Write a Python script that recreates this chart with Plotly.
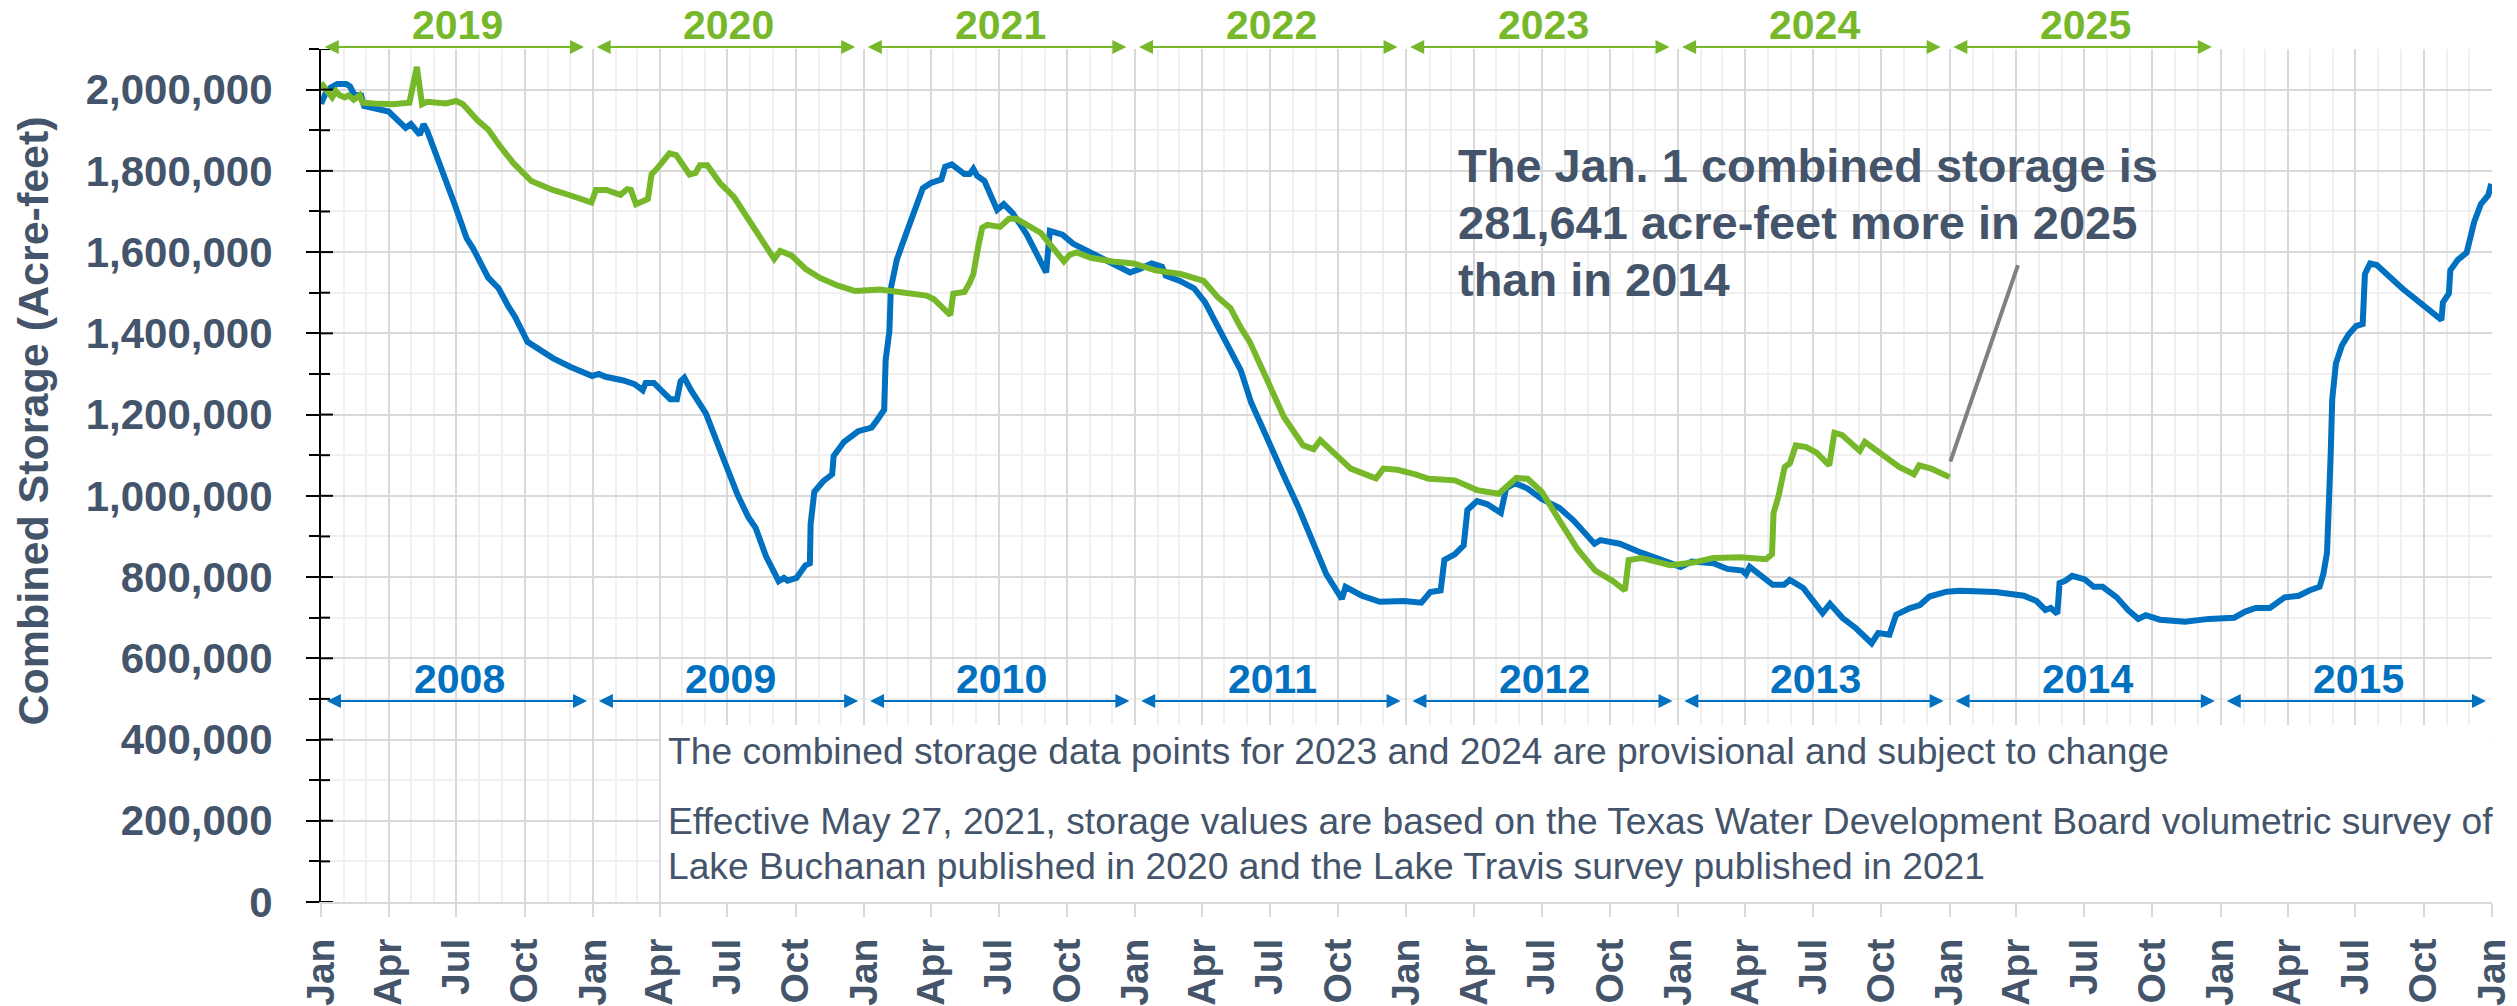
import pandas as pd
import plotly.graph_objects as go

# ---------------- data (acre-feet) ----------------
blue_dates = [
    "2008-01-01", "2008-01-07", "2008-01-14", "2008-01-23", "2008-02-04", "2008-02-09", "2008-02-14", "2008-02-24",
    "2008-02-28", "2008-03-16", "2008-04-01", "2008-04-24", "2008-05-01", "2008-05-13", "2008-05-18", "2008-05-23",
    "2008-06-11", "2008-06-28", "2008-07-15", "2008-07-24", "2008-08-13", "2008-08-27", "2008-09-09", "2008-09-18",
    "2008-10-05", "2008-10-15", "2008-11-08", "2008-12-02", "2008-12-31",
    "2009-01-09", "2009-01-18", "2009-02-11", "2009-02-26", "2009-03-09", "2009-03-13", "2009-03-24", "2009-04-15",
    "2009-04-24", "2009-04-29", "2009-05-04", "2009-05-13", "2009-06-02", "2009-06-16", "2009-06-30", "2009-07-15",
    "2009-07-29", "2009-08-08", "2009-08-22", "2009-09-08", "2009-09-15", "2009-09-20", "2009-10-02", "2009-10-14",
    "2009-10-20", "2009-10-21", "2009-10-26", "2009-11-07", "2009-11-19", "2009-11-21", "2009-12-05", "2009-12-24",
    "2010-01-11", "2010-01-18", "2010-01-28", "2010-01-30", "2010-02-04", "2010-02-06", "2010-02-14", "2010-02-26",
    "2010-03-09", "2010-03-21", "2010-04-01", "2010-04-15", "2010-04-20", "2010-04-29", "2010-05-16", "2010-05-23",
    "2010-05-28", "2010-06-02", "2010-06-12", "2010-06-29", "2010-07-08", "2010-07-20", "2010-08-08", "2010-09-03",
    "2010-09-08", "2010-09-25", "2010-10-09", "2010-11-02", "2010-12-01", "2010-12-25",
    "2011-01-08", "2011-01-23", "2011-02-06", "2011-02-11", "2011-03-02", "2011-03-21", "2011-04-05", "2011-04-24",
    "2011-05-08", "2011-05-23", "2011-06-06", "2011-06-21", "2011-07-05", "2011-07-19", "2011-08-08", "2011-08-27",
    "2011-09-15", "2011-10-06", "2011-10-11", "2011-11-02", "2011-11-26", "2011-12-29",
    "2012-01-21", "2012-02-02", "2012-02-16", "2012-02-21", "2012-03-06", "2012-03-18", "2012-03-23", "2012-04-05",
    "2012-04-19", "2012-05-07", "2012-05-14", "2012-05-26", "2012-06-12", "2012-07-01", "2012-07-25", "2012-08-13",
    "2012-09-10", "2012-09-18", "2012-10-14", "2012-11-12", "2012-12-20",
    "2013-01-04", "2013-01-19", "2013-02-17", "2013-03-08", "2013-03-28", "2013-04-02", "2013-04-07", "2013-05-08",
    "2013-05-23", "2013-05-31", "2013-06-18", "2013-07-14", "2013-07-24", "2013-08-10", "2013-08-28", "2013-09-18",
    "2013-09-27", "2013-10-12", "2013-10-21", "2013-11-08", "2013-11-22", "2013-12-05", "2013-12-28",
    "2014-01-15", "2014-03-04", "2014-04-11", "2014-04-28", "2014-05-10", "2014-05-17", "2014-05-26", "2014-05-29",
    "2014-06-06", "2014-06-15", "2014-07-02", "2014-07-14", "2014-07-26", "2014-08-14", "2014-08-29", "2014-09-12",
    "2014-09-22", "2014-10-11", "2014-11-14", "2014-12-16",
    "2015-01-19", "2015-02-03", "2015-02-17", "2015-03-08", "2015-03-28", "2015-04-16", "2015-04-30", "2015-05-14",
    "2015-05-19", "2015-05-24", "2015-05-29", "2015-05-31", "2015-06-05", "2015-06-13", "2015-06-22", "2015-07-02",
    "2015-07-11", "2015-07-14", "2015-07-21", "2015-07-30", "2015-09-02", "2015-10-01", "2015-10-25", "2015-10-27",
    "2015-11-04", "2015-11-06", "2015-11-16", "2015-11-28", "2015-12-08", "2015-12-17", "2015-12-27", "2015-12-31",
]
blue_values = [
    1965000, 1990000, 2005000, 2014000, 2014000, 2008000, 1990000, 1986000,
    1960000, 1953000, 1946000, 1906000, 1915000, 1889000, 1915000, 1898000,
    1810000, 1722000, 1634000, 1608000, 1537000, 1511000, 1467000, 1441000,
    1379000, 1366000, 1339000, 1317000, 1295000,
    1300000, 1293000, 1284000, 1275000, 1260000, 1278000, 1278000, 1238000,
    1238000, 1282000, 1291000, 1260000, 1203000, 1141000, 1071000, 1001000,
    948000, 921000, 851000, 790000, 798000, 791000, 798000, 829000,
    834000, 930000, 1010000, 1036000, 1053000, 1098000, 1133000, 1159000,
    1168000, 1185000, 1212000, 1335000, 1405000, 1511000, 1581000, 1643000,
    1696000, 1757000, 1770000, 1779000, 1810000, 1816000, 1792000, 1792000,
    1805000, 1788000, 1775000, 1704000, 1718000, 1696000, 1643000, 1550000,
    1652000, 1643000, 1621000, 1599000, 1572000, 1550000,
    1559000, 1572000, 1564000, 1542000, 1529000, 1511000, 1476000, 1414000,
    1361000, 1309000, 1229000, 1168000, 1106000, 1053000, 974000, 886000,
    807000, 746000, 776000, 754000, 739000, 741000,
    737000, 763000, 767000, 842000, 856000, 878000, 965000, 987000,
    979000, 958000, 1018000, 1031000, 1018000, 992000, 970000, 939000,
    882000, 891000, 882000, 860000, 834000,
    825000, 838000, 834000, 820000, 816000, 807000, 825000, 781000,
    781000, 793000, 773000, 711000, 734000, 699000, 674000, 637000,
    662000, 658000, 707000, 723000, 731000, 752000, 764000,
    766000, 763000, 754000, 741000, 719000, 724000, 710000, 785000,
    791000, 803000, 794000, 776000, 776000, 750000, 719000, 697000,
    706000, 695000, 690000, 697000,
    700000, 715000, 724000, 724000, 750000, 754000, 767000, 776000,
    807000, 860000, 1106000, 1238000, 1326000, 1370000, 1397000, 1418000,
    1423000, 1546000, 1572000, 1568000, 1511000, 1467000, 1433000, 1476000,
    1498000, 1555000, 1581000, 1599000, 1674000, 1718000, 1740000, 1768000,
]

green_dates = [
    "2019-01-01", "2019-01-07", "2019-01-12", "2019-01-16", "2019-01-21", "2019-01-26", "2019-02-02", "2019-02-07",
    "2019-02-14", "2019-02-22", "2019-02-26", "2019-03-12", "2019-04-06", "2019-04-29", "2019-05-03", "2019-05-09",
    "2019-05-13", "2019-05-16", "2019-05-23", "2019-06-17", "2019-07-01", "2019-07-10", "2019-07-30", "2019-08-13",
    "2019-08-28", "2019-09-16", "2019-10-10", "2019-11-08", "2019-12-01", "2019-12-30",
    "2020-01-05", "2020-01-19", "2020-02-07", "2020-02-16", "2020-02-21", "2020-02-28", "2020-03-16", "2020-03-21",
    "2020-03-28", "2020-04-04", "2020-04-14", "2020-04-23", "2020-05-11", "2020-05-19", "2020-05-25", "2020-06-04",
    "2020-06-21", "2020-07-10", "2020-08-03", "2020-08-22", "2020-09-02", "2020-09-10", "2020-09-25", "2020-10-14",
    "2020-11-02", "2020-11-26", "2020-12-20",
    "2021-01-22", "2021-02-26", "2021-03-26", "2021-04-05", "2021-04-27", "2021-05-01", "2021-05-16", "2021-05-23",
    "2021-05-28", "2021-06-04", "2021-06-09", "2021-06-16", "2021-07-03", "2021-07-15", "2021-07-25", "2021-08-27",
    "2021-09-27", "2021-10-05", "2021-10-14", "2021-11-02", "2021-12-01", "2021-12-30",
    "2022-01-28", "2022-03-03", "2022-04-03", "2022-04-22", "2022-05-09", "2022-05-23", "2022-06-04", "2022-06-26",
    "2022-07-20", "2022-08-15", "2022-08-29", "2022-09-07", "2022-09-25", "2022-10-18", "2022-11-12", "2022-11-21",
    "2022-12-01", "2022-12-20",
    "2023-01-13", "2023-01-31", "2023-03-06", "2023-04-05", "2023-05-04", "2023-05-28", "2023-06-12", "2023-07-01",
    "2023-07-25", "2023-08-18", "2023-09-11", "2023-10-05", "2023-10-21", "2023-10-26", "2023-11-12", "2023-12-21",
    "2024-01-19", "2024-02-17", "2024-03-26", "2024-04-29", "2024-05-07", "2024-05-09", "2024-05-16", "2024-05-24",
    "2024-05-31", "2024-06-08", "2024-06-22", "2024-07-06", "2024-07-23", "2024-07-30", "2024-08-09", "2024-09-02",
    "2024-09-09", "2024-10-01", "2024-10-25", "2024-11-14", "2024-11-21", "2024-12-07", "2025-01-01",
]
green_values = [
    2017000, 1999000, 1990000, 1981000, 1996000, 1986000, 1981000, 1986000,
    1975000, 1986000, 1968000, 1966000, 1964000, 1968000, 2012000, 2056000,
    2003000, 1964000, 1970000, 1966000, 1972000, 1964000, 1924000, 1902000,
    1863000, 1819000, 1775000, 1753000, 1740000, 1722000,
    1753000, 1753000, 1741000, 1755000, 1753000, 1718000, 1731000, 1792000,
    1805000, 1823000, 1843000, 1839000, 1791000, 1795000, 1814000, 1814000,
    1770000, 1735000, 1669000, 1617000, 1583000, 1603000, 1592000, 1559000,
    1537000, 1518000, 1504000,
    1508000, 1498000, 1493000, 1484000, 1445000, 1498000, 1502000, 1524000,
    1546000, 1617000, 1660000, 1667000, 1662000, 1682000, 1682000, 1647000,
    1577000, 1594000, 1599000, 1586000, 1577000, 1572000,
    1555000, 1546000, 1529000, 1489000, 1462000, 1414000, 1379000, 1291000,
    1194000, 1124000, 1115000, 1137000, 1106000, 1067000, 1049000, 1043000,
    1067000, 1064000,
    1053000, 1042000, 1038000, 1014000, 1005000, 1044000, 1042000, 1010000,
    939000, 869000, 816000, 790000, 767000, 842000, 847000, 829000,
    835000, 847000, 849000, 844000, 856000, 957000, 1001000, 1071000,
    1080000, 1124000, 1120000, 1106000, 1075000, 1155000, 1150000, 1111000,
    1133000, 1102000, 1071000, 1053000, 1075000, 1067000, 1046000,
]

blue_years = ["2008", "2009", "2010", "2011", "2012", "2013", "2014", "2015"]
green_years = ["2019", "2020", "2021", "2022", "2023", "2024", "2025"]
YEAR_OFFSET = 11  # green series (2019-) overlaid on the 2008- axis

note_lines = [
    "The combined storage data points for 2023 and 2024 are provisional and subject to change",
    "Effective May 27, 2021, storage values are based on the Texas Water Development Board volumetric survey of",
    "Lake Buchanan published in 2020 and the Lake Travis survey published in 2021",
]
callout_lines = [
    "The Jan. 1 combined storage is",
    "281,641 acre-feet more in 2025",
    "than in 2014",
]

# ---------------- styling ----------------
BLUE = "#0070C0"
GREEN = "#76B82A"
TXT = "#44546A"
FONT = "Arial, Liberation Sans, sans-serif"
Y_MAX = 2100000

blue_x = pd.to_datetime(blue_dates)
green_x = pd.to_datetime(green_dates) - pd.DateOffset(years=YEAR_OFFSET)

fig = go.Figure()
fig.add_trace(go.Scatter(x=blue_x, y=blue_values, mode="lines",
                         line=dict(color=BLUE, width=6), hoverinfo="skip"))
fig.add_trace(go.Scatter(x=green_x, y=green_values, mode="lines",
                         line=dict(color=GREEN, width=6), hoverinfo="skip"))

annotations = []
# year arrows + labels (top: 2019-2025, above the plot area)
for i, yr in enumerate(green_years):
    y0 = 2008 + i
    annotations.append(dict(x=f"{y0}-12-20", y=1.0023, ax=f"{y0}-01-04", ay=0,
                            xref="x", yref="paper", axref="x", ayref="pixel",
                            text="", showarrow=True, arrowside="end+start", arrowhead=2, startarrowhead=2,
                            arrowsize=1.4, startarrowsize=1.4, arrowwidth=2, arrowcolor=GREEN,
                            standoff=0, startstandoff=0))
    annotations.append(dict(x=f"{y0}-07-03", y=1.028, xref="x", yref="paper", text=yr, showarrow=False,
                            font=dict(family=FONT, size=41, color=GREEN, weight="bold"),
                            xanchor="center", yanchor="middle"))
# bottom: 2008-2015
for i, yr in enumerate(blue_years):
    y0 = 2008 + i
    annotations.append(dict(x=f"{y0}-12-24", y=495000, ax=f"{y0}-01-07", ay=495000,
                            xref="x", yref="y", axref="x", ayref="y",
                            text="", showarrow=True, arrowside="end+start", arrowhead=2, startarrowhead=2,
                            arrowsize=1.4, startarrowsize=1.4, arrowwidth=2, arrowcolor=BLUE,
                            standoff=0, startstandoff=0))
    annotations.append(dict(x=f"{y0}-07-05", y=550000, xref="x", yref="y", text=yr, showarrow=False,
                            font=dict(family=FONT, size=41, color=BLUE, weight="bold"),
                            xanchor="center", yanchor="middle"))

# callout text
for txt, yv in zip(callout_lines, [1812000, 1673000, 1532000]):
    annotations.append(dict(x="2012-03-07", y=yv, xref="x", yref="y", text=txt, showarrow=False,
                            align="left", xanchor="left", yanchor="middle",
                            font=dict(family=FONT, size=47, color=TXT, weight="bold")))
# notes
for txt, yv in zip(note_lines, [372000, 199000, 89000]):
    annotations.append(dict(x="2009-04-09", y=yv, xref="x", yref="y", text=txt, showarrow=False,
                            align="left", xanchor="left", yanchor="middle",
                            font=dict(family=FONT, size=37.2, color=TXT)))
# y axis title
annotations.append(dict(x=-0.1327, y=1185000, xref="paper", yref="y", text="Combined Storage (Acre-feet)",
                        showarrow=False, textangle=-90, xanchor="center", yanchor="middle",
                        font=dict(family=FONT, size=43, color=TXT, weight="bold")))

shapes = [
    dict(type="rect", xref="x", yref="y", x0="2009-04-03", x1="2016-01-01", y0=0, y1=436000,
         fillcolor="white", line=dict(width=0), layer="between"),
    dict(type="line", xref="x", yref="y", x0="2014-01-02", y0=1084000, x1="2014-04-03", y1=1568000,
         line=dict(color="#808080", width=4)),
]
# inner half of the crossing y-axis tick marks
for k in range(0, Y_MAX + 1, 100000):
    inner = 12 if k % 200000 == 0 else 9
    shapes.append(dict(type="line", xref="paper", yref="y", xsizemode="pixel", xanchor=0,
                       x0=0, x1=inner, y0=k, y1=k, line=dict(color="black", width=2), layer="above"))

fig.update_layout(
    width=2517, height=1006,
    margin=dict(l=321, r=25, t=49, b=104, autoexpand=False),
    paper_bgcolor="white", plot_bgcolor="white",
    showlegend=False,
    annotations=annotations,
    shapes=shapes,
    xaxis=dict(
        type="date", range=["2008-01-01", "2016-01-01 01:00"], automargin=False,
        tick0="2008-01-01", dtick="M3", tickformat="%b", tickangle=-90,
        tickfont=dict(family=FONT, size=39, color=TXT, weight="bold"),
        ticks="outside", ticklen=13, tickwidth=2, tickcolor="#D9D9D9",
        ticklabelstandoff=6,
        showgrid=True, gridcolor="#D9D9D9", gridwidth=2,
        minor=dict(dtick="M1", tick0="2008-01-01", showgrid=True, gridcolor="#F0F0F0", gridwidth=2, ticks=""),
        showline=True, linecolor="#D9D9D9", linewidth=2, zeroline=False, fixedrange=True,
    ),
    yaxis=dict(
        range=[0, Y_MAX], dtick=200000, tick0=0, tickformat=",d", automargin=False,
        tickfont=dict(family=FONT, size=42, color=TXT, weight="bold"),
        ticks="outside", ticklen=13, tickwidth=2, tickcolor="black",
        ticklabelstandoff=25,
        showgrid=True, gridcolor="#D9D9D9", gridwidth=2,
        minor=dict(dtick=100000, tick0=0, showgrid=True, gridcolor="#F0F0F0", gridwidth=2,
                   ticks="outside", ticklen=10, tickwidth=2, tickcolor="black"),
        showline=True, linecolor="black", linewidth=2, zeroline=False, fixedrange=True,
    ),
)

# the page body has a default 8px margin; remove it so the figure fills the window
fig.write_html("out.html", config={"displayModeBar": False},
               post_script="document.body.style.margin='0';document.body.style.overflow='hidden';")
